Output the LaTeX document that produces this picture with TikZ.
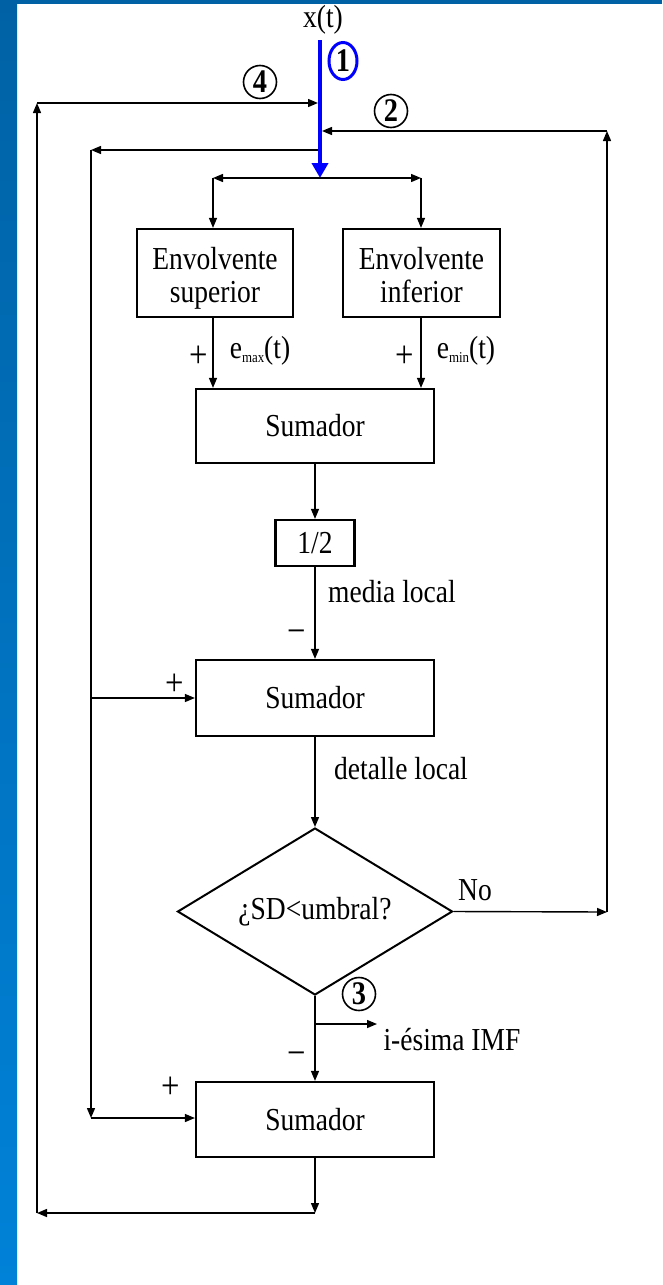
\documentclass[tikz,border=0pt]{standalone}
\usepackage{fontspec}
\setmainfont{Liberation Serif}[FakeStretch=0.86]
\usetikzlibrary{arrows.meta,shapes.geometric}
\definecolor{bandtop}{RGB}{0,98,165}
\definecolor{bandbot}{RGB}{0,130,216}
\newcommand\toprule{\rule{0pt}{32pt}}
\begin{document}
\begin{tikzpicture}[x=1pt,y=-1pt,
  every node/.style={font=\fontsize{32}{33}\selectfont, inner sep=0pt},
  blk/.style={draw, line width=2.2pt, align=center},
  cond/.style={draw, diamond, line width=2pt, aspect=1.65},
  conn/.style={line width=1.4pt, -{Triangle[length=10pt,width=8pt]}},
  wire/.style={line width=1.4pt},
  badge/.style={draw, circle, line width=1.6pt, minimum size=33pt,
    font=\fontsize{33}{33}\selectfont\bfseries},
  sign/.style={font=\fontsize{38}{38}\selectfont},
]
% page and frame bands
\useasboundingbox (0,0) rectangle (662,1285);
\fill[white] (0,0) rectangle (662,1285);
\fill[top color=bandtop, bottom color=bandbot] (0,0) rectangle (17,1285);
\fill[bandtop] (0,0) rectangle (662,4);

% blocks
\node (xt) at (323,20) {x(t)};
\node[blk, minimum width=156pt, minimum height=88pt] (bx1) at (215,273) {\toprule Envolvente\\superior\vphantom{p}};
\node[blk, minimum width=157pt, minimum height=88pt] (bx2) at (421.5,273) {\toprule Envolvente\\inferior\vphantom{p}};
\node[blk, minimum width=238pt, minimum height=74pt] (sum1) at (315,426) {Sumador};
\node[blk, minimum width=79pt, minimum height=46pt] (half) at (315,543) {1/2};
\node[blk, minimum width=238pt, minimum height=76pt] (sum2) at (315,698) {Sumador};
\node[cond, minimum width=275pt, minimum height=167pt] (dia) at (315,911.5) {¿SD<umbral?};
\node[blk, minimum width=238pt, minimum height=75pt] (sum3) at (315,1119.5) {Sumador};

% labels
\node[sign] (p1) at (199,357) {+};
\node (emax) at (260,351) {e\raisebox{-4pt}{\fontsize{15}{15}\selectfont max}(t)};
\node[sign] (p2) at (405,357) {+};
\node (emin) at (466,351) {e\raisebox{-4pt}{\fontsize{15}{15}\selectfont min}(t)};
\node (media) at (392,592) {media local};
\node[sign] (m1) at (297,637) {−};
\node[sign] (p3) at (175,685) {+};
\node (det) at (401,769) {detalle local};
\node (no) at (475,890) {No};
\node (imf) at (452,1040) {i-ésima IMF};
\node[sign] (m2) at (297,1059) {−};
\node[sign] (p4) at (171,1088) {+};

% step numbers
\node[badge] (n4) at (260,82) {4};
\node[badge] (n2) at (391,111) {2};
\node[badge] (n3) at (359,994) {3};
\node[draw=blue, ellipse, line width=3pt, minimum width=28pt, minimum height=37pt,
  font=\fontsize{33}{33}\selectfont\bfseries] (n1) at (343,61) {1};

% junction points
\coordinate (in) at (320,40);
\coordinate (split) at (320,178);
\coordinate (sl) at (213,178);
\coordinate (sr) at (421,178);
\coordinate (j4) at (318,103);
\coordinate (j2) at (322,131);
\coordinate (j1) at (318,150);
\coordinate (tl) at (37,103);
\coordinate (bl) at (37,1213);
\coordinate (br) at (315,1213);
\coordinate (r1) at (607,912);
\coordinate (r2) at (607,131);
\coordinate (l1) at (91,150);
\coordinate (l2) at (91,1118);
\coordinate (b3) at (315,1024);
\coordinate (b3e) at (377,1024);

% split to the two envelopes
\draw[wire, {Triangle[length=10pt,width=8pt]}-{Triangle[length=10pt,width=8pt]}] (sl) -- (sr);
\draw[conn] (sl) -- (sl |- bx1.north);
\draw[conn] (sr) -- (sr |- bx2.north);
\draw[conn] (sl |- bx1.south) -- (sl |- sum1.north);
\draw[conn] (sr |- bx2.south) -- (sr |- sum1.north);

% main column
\draw[conn] (sum1.south) -- (half.north);
\draw[conn] (half.south) -- (sum2.north);
\draw[conn] (sum2.south) -- (dia.north);
\draw[conn] (dia.south) -- (sum3.north);
\draw[conn] (b3) -- (b3e);

% outer loop (4)
\draw[conn] (sum3.south) -- (br);
\draw[conn] (br) -- (bl);
\draw[conn] (bl) -- (tl);
\draw[conn] (tl) -- (j4);

% sifting loop (2)
\draw[conn] (dia.east) -- (r1);
\draw[conn] (r1) -- (r2);
\draw[conn] (r2) -- (j2);

% signal copy to the adders
\draw[conn] (j1) -- (l1);
\draw[conn] (l1) -- (l2);
\draw[conn] (l1 |- sum2.west) -- (sum2.west);
\draw[conn] (l2) -- (l2 -| sum3.west);

% input signal
\draw[blue, line width=4pt, -{Triangle[length=15pt,width=16pt]}] (in) -- (split);
\end{tikzpicture}
\end{document}
